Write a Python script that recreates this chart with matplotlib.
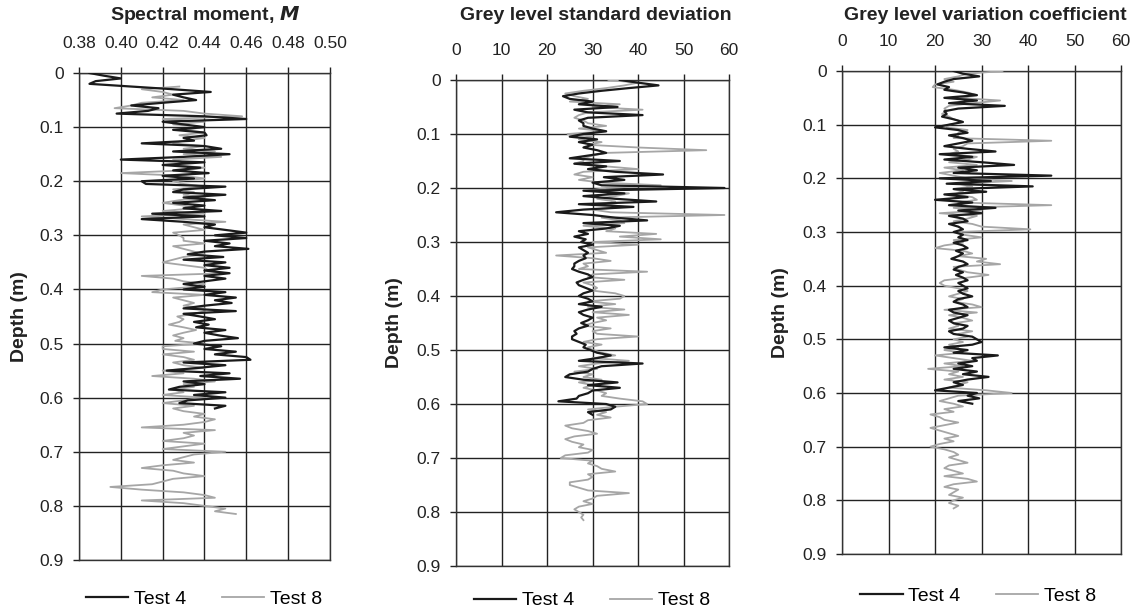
import matplotlib
matplotlib.use("Agg")
import matplotlib.pyplot as plt
import numpy as np

plt.rcParams['font.family'] = ['Liberation Sans', 'DejaVu Sans']

step = 0.005  # depth step of the logs (m)

# Spectral moment M
m_test4 = [0.385, 0.392, 0.400, 0.388, 0.385, 0.405, 0.425, 0.443, 0.425, 0.430,
           0.436, 0.420, 0.405, 0.418, 0.413, 0.398, 0.440, 0.460, 0.420, 0.430,
           0.440, 0.425, 0.440, 0.441, 0.430, 0.435, 0.410, 0.440, 0.448, 0.425,
           0.452, 0.430, 0.400, 0.440, 0.420, 0.438, 0.425, 0.442, 0.420, 0.435,
           0.410, 0.412, 0.450, 0.430, 0.425, 0.450, 0.430, 0.445, 0.425, 0.440,
           0.430, 0.448, 0.415, 0.440, 0.410, 0.430, 0.445, 0.440, 0.450, 0.460,
           0.445, 0.460, 0.440, 0.452, 0.445, 0.461, 0.440, 0.432, 0.449, 0.430,
           0.450, 0.440, 0.452, 0.440, 0.452, 0.440, 0.450, 0.440, 0.430, 0.440,
           0.430, 0.450, 0.440, 0.455, 0.445, 0.453, 0.440, 0.430,
           0.455, 0.430, 0.438, 0.445, 0.435, 0.442, 0.436, 0.450, 0.440, 0.447, 0.456, 0.440,
           0.435, 0.448, 0.440, 0.455, 0.445, 0.460, 0.462, 0.430, 0.450, 0.437,
           0.422, 0.452, 0.438, 0.457, 0.430, 0.440, 0.428, 0.423, 0.450, 0.435,
           0.450, 0.432, 0.428, 0.450, 0.445]
m_test8 = [0.428, 0.410, 0.420, 0.425, 0.415,
           0.430, 0.410, 0.405, 0.397, 0.430, 0.440, 0.458, 0.420, 0.440, 0.425,
           0.440, 0.430, 0.440, 0.428, 0.440, 0.430, 0.425, 0.440, 0.430, 0.445,
           0.430, 0.448, 0.425, 0.430, 0.425, 0.440, 0.430, 0.400, 0.430, 0.440,
           0.425, 0.430, 0.440, 0.425, 0.435, 0.430, 0.440, 0.428, 0.420, 0.430,
           0.435, 0.420, 0.440, 0.410, 0.430, 0.450, 0.430, 0.435, 0.440, 0.425,
           0.428, 0.430, 0.430, 0.440, 0.425, 0.430, 0.435, 0.440, 0.430, 0.425,
           0.420, 0.430, 0.440, 0.442, 0.450, 0.410, 0.425, 0.430, 0.440, 0.435,
           0.420, 0.415, 0.440, 0.425, 0.430, 0.435, 0.430, 0.440, 0.440, 0.435,
           0.427, 0.430, 0.428, 0.423, 0.430, 0.436, 0.430, 0.425, 0.430, 0.426,
           0.440, 0.420, 0.420, 0.435, 0.420, 0.430, 0.435, 0.425, 0.430, 0.440,
           0.420, 0.430, 0.415, 0.435, 0.445, 0.430, 0.435, 0.425, 0.430, 0.420,
           0.440, 0.430, 0.420, 0.435, 0.425, 0.430, 0.440, 0.435, 0.445, 0.440,
           0.430, 0.410, 0.445, 0.430, 0.435, 0.430, 0.420, 0.440, 0.430, 0.420,
           0.450, 0.435, 0.430, 0.425, 0.435, 0.420, 0.410, 0.425, 0.430, 0.440,
           0.425, 0.420, 0.415, 0.395, 0.410, 0.430, 0.440, 0.445, 0.410, 0.430,
           0.440, 0.450, 0.445, 0.455]

# Grey level standard deviation
s_test4 = [36, 40, 44.5, 38, 32, 27, 23.5, 25, 30, 27,
           35.5, 26, 29, 41, 29, 27, 28, 28, 30, 33,
           28, 25, 31, 27, 30, 28, 31, 33, 29, 25,
           36, 26, 33, 29, 35, 45.5, 32.5, 37, 30, 32,
           59, 28, 37, 28, 35, 44, 27, 39, 28, 22,
           30, 35, 42, 28, 36, 33, 27, 29, 26, 28.5,
           27.5, 30, 27, 28, 29, 28, 28.5, 27, 26, 26,
           25.5, 27, 29, 30, 28, 26.5, 27, 28.5, 30, 28,
           27, 29, 30, 27, 32, 29, 27, 28, 30, 29,
           27.5, 29, 27, 26, 26.5, 25.5, 25.5, 27, 28.5, 28,
           29.5, 31, 34, 31, 27, 41, 32, 30, 29, 25,
           24, 28, 35.5, 29, 36, 30, 29, 27, 26.5, 22.5,
           33, 35, 34, 29, 30]
s_test8 = [33.5, 40, 37, 33, 28, 24, 26, 29, 25, 36,
           30, 41, 29, 27, 26, 28, 29, 33, 27, 33,
           24.5, 30, 27, 32, 29, 40, 55, 33, 30, 28,
           28, 26, 33, 40, 28, 26, 30, 27, 32, 45,
           33, 29, 38, 35, 31, 35, 33, 37, 30, 34,
           59, 32, 36, 37, 28, 35, 33, 44, 36, 45,
           30, 40, 29, 31, 33, 22, 30, 34, 28, 29,
           27, 42, 30, 29, 37, 28, 30, 31, 30, 35,
           37, 36, 29, 35, 29, 37, 30, 38, 31, 33,
           30, 28, 34, 30, 31, 40, 31, 28, 32, 29,
           30, 32, 35, 30, 38, 31, 27, 31, 26, 30,
           28, 32, 27, 30, 28, 31, 33, 32, 36, 41,
           42, 35, 29, 33, 31, 34, 29, 28, 24, 25.5,
           29, 31, 26, 24, 25.5, 28, 27, 30, 29, 24,
           23, 30, 29, 31, 32, 35, 29, 30, 29, 25,
           25, 27, 29, 38, 31, 30, 28, 30, 27, 26,
           27, 28, 27.5, 28]

# Grey level variation coefficient
c_test4 = [24, 26, 29.5, 24, 22, 20.5, 23, 22, 26, 29,
           22, 29, 23, 35, 25, 22, 22.5, 21.5, 24, 26,
           23, 20, 25, 27, 23, 26, 28, 25, 22, 27,
           33, 21, 28, 22, 30, 37, 25, 29, 24, 45,
           21, 32, 22.5, 41, 24, 31, 22, 27, 20, 28,
           23, 33, 25, 30, 23, 26, 27, 23, 25, 26,
           24, 26, 25, 27, 24, 26, 27, 24.5, 26, 25,
           23.5, 26, 27, 25, 24, 26, 24.5, 26, 27, 25,
           26, 27, 25, 26, 28, 25, 24, 26, 27, 23,
           24, 27, 25, 23, 24, 27, 26, 23, 24, 28,
           29, 30, 28, 22, 27, 24, 33.5, 28, 29, 25,
           28, 24, 29, 26, 31.5, 27, 24, 26, 23, 20,
           29, 27, 29.5, 25, 28]
c_test8 = [34.5, 27, 25, 22, 24, 20, 19.5, 24, 27, 29,
           25, 34, 28, 23, 22, 22.5, 21.5, 23, 24, 26,
           23, 22.5, 27, 25, 25, 24, 45, 27, 26, 24,
           25, 23, 29, 27, 23, 29, 22, 26, 21, 24,
           27, 36.5, 25, 28, 24, 26, 24, 28, 29, 25,
           45, 24, 30, 21, 29, 27, 24, 28, 30, 40.5,
           25, 26, 30, 24, 26, 22, 20, 26, 28, 25,
           31, 29, 34, 24, 25, 27, 31.5, 27, 22, 21,
           22, 25, 27, 25, 23, 26, 24, 28, 30, 22,
           29, 23, 26, 28, 24, 25, 23, 28, 25, 27,
           24, 26, 23, 25, 22, 26, 20, 24, 28, 22,
           26, 18.5, 25, 23, 26, 22, 27, 25, 23, 31,
           36.5, 25, 23, 21, 24, 26, 22, 24, 19, 21,
           22, 25, 22, 19, 21, 23, 25, 22, 24, 21,
           19, 22, 24, 25, 23, 25, 27, 23, 22, 24,
           26, 22, 27, 29, 24, 22, 25, 24, 23, 26,
           24, 23, 25, 24]

titles = ["Spectral moment, $\\bfit{M}$", "Grey level standard deviation",
          "Grey level variation coefficient"]
depth_ticks = [0, 0.1, 0.2, 0.3, 0.4, 0.5, 0.6, 0.7, 0.8, 0.9]
depth_labels = ["0", "0.1", "0.2", "0.3", "0.4", "0.5", "0.6", "0.7", "0.8", "0.9"]

def depths(values, start):
    return start + step * np.arange(len(values))

fig = plt.figure(figsize=(11.35, 6.11), dpi=100)

# [left, bottom, width, height], data, start depth of test 8, x ticks, format,
# title x, legend pos, ylabel x (axes fraction)
panels = [
    ([0.0696, 0.0835, 0.2211, 0.7970], m_test4, m_test8, 0.025,
     np.arange(0.38, 0.501, 0.02), "%.2f", 0.1806, 0.1797, 0.020, -0.203),
    ([0.4018, 0.0736, 0.2405, 0.7955], s_test4, s_test8, 0.0,
     np.arange(0, 61, 10), "%d", 0.5247, 0.5216, 0.017, -0.194),
    ([0.7419, 0.0933, 0.2458, 0.7905], c_test4, c_test8, 0.0,
     np.arange(0, 61, 10), "%d", 0.8677, 0.8617, 0.025, -0.190),
]

for i, (rect, t4, t8, start8, xt, fmt, tx, lx, ly, ylx) in enumerate(panels):
    ax = fig.add_axes(rect)
    l8, = ax.plot(t8, depths(t8, start8), color="#a6a6a6", lw=1.3, zorder=3)
    l4, = ax.plot(t4, depths(t4, 0.0), color="#1a1a1a", lw=1.6, zorder=4)
    ax.set_xlim(xt[0], xt[-1])
    ax.set_ylim(0.9, 0)
    ax.set_xticks(xt)
    ax.set_xticklabels([fmt % v for v in xt])
    ax.set_yticks(depth_ticks)
    ax.set_yticklabels(depth_labels)
    ax.xaxis.tick_top()
    ax.tick_params(axis="x", direction="out", length=4, width=1, pad=12, labelsize=12.5, colors="#222222")
    ax.tick_params(axis="y", direction="out", length=4, width=1, pad=7, labelsize=12.5, colors="#222222")
    ax.grid(True, color="#222222", lw=1.0)
    ax.set_axisbelow(True)
    for sp in ax.spines.values():
        sp.set_color("#333333")
        sp.set_linewidth(1.0)
    ax.set_ylabel("Depth (m)", fontsize=14, fontweight="bold", color="#222222")
    ax.yaxis.set_label_coords(ylx, 0.5)
    fig.text(tx, 0.975, titles[i], ha="center", va="center", fontsize=14,
             fontweight="bold", color="#222222")
    ax.legend([l4, l8], ["Test 4", "Test 8"], loc="center", ncol=2, frameon=False,
              bbox_to_anchor=(lx, ly), bbox_transform=fig.transFigure,
              fontsize=14, handlelength=2.2, handletextpad=0.3, columnspacing=1.8)

plt.savefig("out.png", dpi=100)
